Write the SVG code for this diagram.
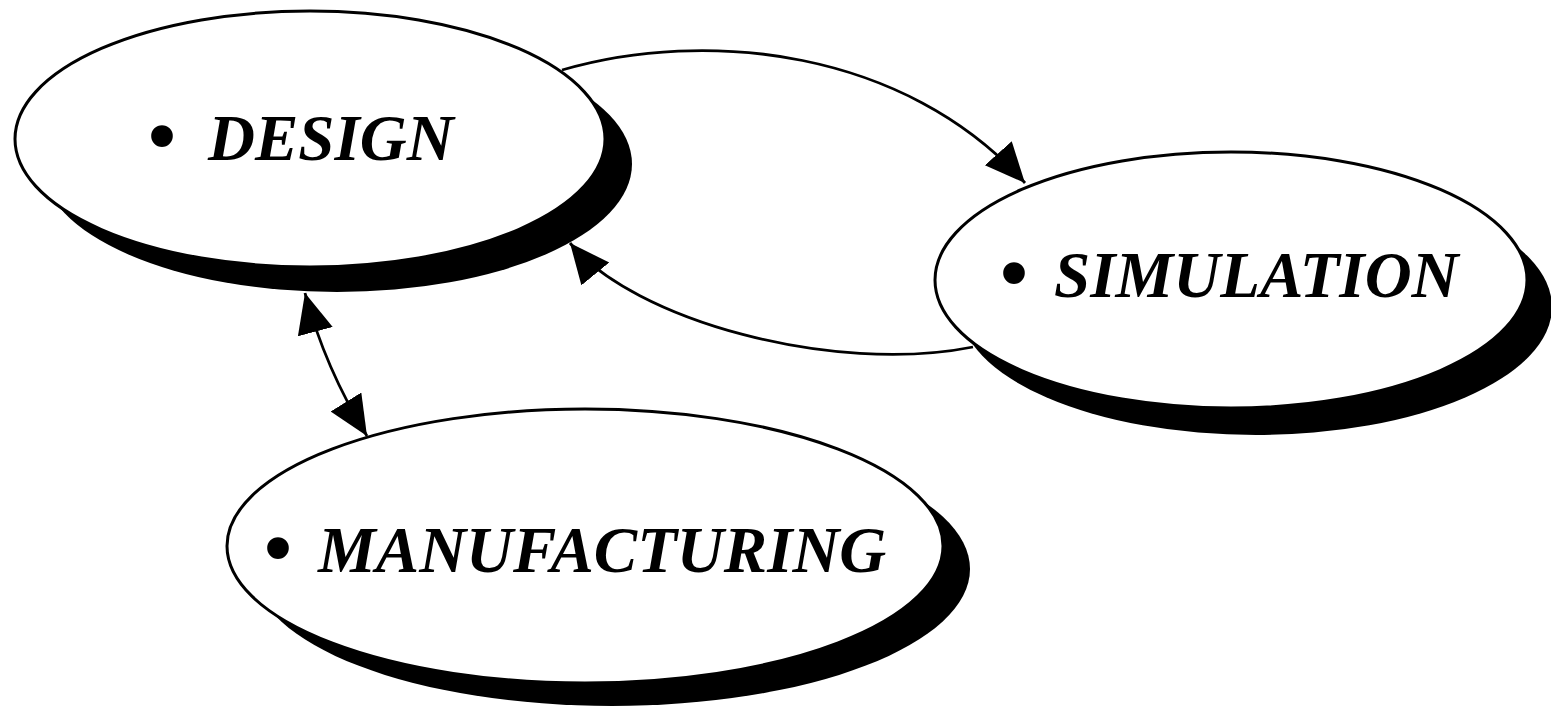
<svg xmlns="http://www.w3.org/2000/svg" width="1551" height="712" viewBox="0 0 1551 712">
  <style>
    .bg { fill: #ffffff; }
    .shadow { fill: #000000; stroke: none; }
    .node { fill: #ffffff; stroke: #000000; stroke-width: 3; }
    .lbl { font-family: "Liberation Serif", "Times New Roman", serif; font-weight: bold; font-style: italic; font-size: 65px; fill: #000000; }
    .bul { font-style: normal; font-size: 80px; }
    .conn { fill: none; stroke: #000000; stroke-width: 2.8; }
  </style>
  <defs>
    <marker id="ah" markerUnits="userSpaceOnUse" viewBox="0 0 42 38" markerWidth="42" markerHeight="38" refX="40" refY="18" orient="auto-start-reverse">
      <path d="M0,0 L40,18 L0,36 Z" fill="#000000"/>
    </marker>
  </defs>
  <rect class="bg" x="0" y="0" width="1551" height="712"/>

  <g id="design">
    <ellipse class="shadow" cx="337" cy="164" rx="295" ry="128"/>
    <ellipse class="node" cx="310" cy="139" rx="295" ry="128"/>
    <text class="lbl" y="160"><tspan class="bul" x="148" dy="3">•</tspan> <tspan x="208" y="160">DESIGN</tspan></text>
  </g>

  <g id="simulation">
    <ellipse class="shadow" cx="1256" cy="307" rx="296" ry="128"/>
    <ellipse class="node" cx="1231" cy="280" rx="296" ry="128"/>
    <text class="lbl" y="297"><tspan class="bul" x="1000" dy="3">•</tspan> <tspan x="1054" y="297">SIMULATION</tspan></text>
  </g>

  <g id="manufacturing">
    <ellipse class="shadow" cx="612" cy="569" rx="358" ry="137"/>
    <ellipse class="node" cx="585" cy="546" rx="358" ry="137"/>
    <text class="lbl" y="572"><tspan class="bul" x="264" dy="3">•</tspan> <tspan x="318" y="572">MANUFACTURING</tspan></text>
  </g>

  <g id="connectors">
    <path class="conn" d="M562,70 C706,28 905,49 1025,183" marker-end="url(#ah)"/>
    <path class="conn" d="M973,347 C833,375 633,320 570,243" marker-end="url(#ah)"/>
    <path class="conn" d="M305,293 Q325,368 367,436" marker-start="url(#ah)" marker-end="url(#ah)"/>
  </g>
</svg>
